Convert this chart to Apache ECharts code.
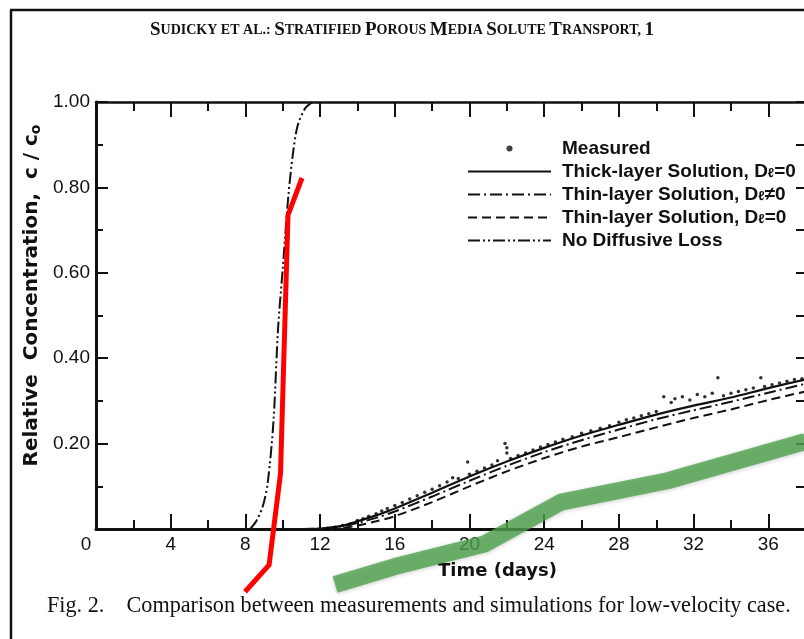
<!DOCTYPE html>
<html>
<head>
<meta charset="utf-8">
<script src="https://cdn.jsdelivr.net/npm/echarts@6/dist/echarts.min.js"></script>
<style>
html,body{margin:0;padding:0;background:#fff;}
#chart{width:804px;height:639px;}
</style>
</head>
<body>
<div id="chart"></div>
<script>
// ---- data ----
const xTicksLabelHidden = [38, 40];
const curveDays      = [11, 12, 13, 14, 15, 16, 18, 20, 22, 24, 26, 28, 30, 32, 34, 36, 38, 40];
const thickLayerD0   = [0, 0.001, 0.006, 0.018, 0.032, 0.048, 0.085, 0.123, 0.158, 0.19, 0.219, 0.244, 0.268, 0.289, 0.308, 0.33, 0.35, 0.368];
const thinLayerDnz   = [0, 0.001, 0.005, 0.014, 0.026, 0.041, 0.076, 0.113, 0.148, 0.18, 0.208, 0.233, 0.257, 0.278, 0.298, 0.319, 0.34, 0.358];
const thinLayerD0    = [0, 0, 0.002, 0.008, 0.018, 0.03, 0.063, 0.1, 0.135, 0.166, 0.193, 0.215, 0.238, 0.26, 0.28, 0.302, 0.322, 0.34];

const noLossDays = [8.25, 8.6, 8.95, 9.2, 9.5, 9.75, 10.0, 10.3, 10.55, 10.8, 11.2, 11.6];
const noLossVals = [0, 0.02, 0.056, 0.11, 0.25, 0.47, 0.61, 0.78, 0.88, 0.945, 0.985, 1.0];

const measuredDays = [12.4,12.8,13.2,13.6,14.0,14.3,14.6,15.0,15.3,15.6,16.0,16.4,16.8,17.2,17.6,18.0,18.4,18.8,19.1,19.4,19.9,20.0,20.4,20.8,21.2,21.5,21.9,22.0,22.0,22.2,22.6,23.0,23.4,23.8,24.2,24.6,25.0,25.5,26.0,26.5,27.0,27.5,28.0,28.4,28.8,29.2,29.6,30.0,30.4,30.8,31.0,31.4,31.8,32.2,32.6,33.0,33.3,33.6,34.0,34.4,34.8,35.2,35.6,35.8,36.2,36.6,37.0,37.4,37.8];
const measuredVals = [0.002,0.004,0.008,0.012,0.02,0.024,0.03,0.036,0.042,0.048,0.055,0.062,0.07,0.078,0.086,0.093,0.101,0.11,0.12,0.118,0.157,0.128,0.135,0.143,0.15,0.16,0.2,0.19,0.178,0.165,0.172,0.178,0.185,0.192,0.198,0.204,0.21,0.216,0.224,0.23,0.236,0.242,0.25,0.256,0.26,0.265,0.27,0.275,0.31,0.296,0.305,0.31,0.302,0.315,0.31,0.318,0.354,0.312,0.318,0.322,0.326,0.33,0.354,0.334,0.338,0.342,0.346,0.35,0.352];

const redDays = [7.98, 9.27, 9.88, 10.28, 11.03];
const redVals = [-0.147, -0.084, 0.13, 0.735, 0.822];

const greenDays = [12.8, 16.0, 20.8, 24.9, 30.6, 38.0];
const greenVals = [-0.13, -0.088, -0.035, 0.063, 0.113, 0.205];

const legendNames = ['Measured', 'Thick-layer Solution, Dℓ=0', 'Thin-layer Solution, Dℓ≠0', 'Thin-layer Solution, Dℓ=0', 'No Diffusive Loss'];

const zip = (a, b) => a.map((v, i) => [v, b[i]]);

const chart = echarts.init(document.getElementById('chart'), null, {renderer: 'canvas'});
const ink = '#111';
const axisFont = 'Liberation Sans, Arial, sans-serif';
const nameFont = 'DejaVu Sans, Verdana, sans-serif';

const xBase = {
  type: 'value', min: 0, max: 40, interval: 4,
  axisLine: {show: true, onZero: false, lineStyle: {color: ink, width: 3}},
  axisTick: {show: true, inside: true, length: 15, lineStyle: {color: ink, width: 2}},
  minorTick: {show: true, splitNumber: 2, length: 9, lineStyle: {color: ink, width: 2}},
  splitLine: {show: false}, minorSplitLine: {show: false}
};

const option = {
  animation: false,
  backgroundColor: '#fff',
  title: [{
    text: '{b|S}{s|UDICKY ET AL.: }{b|S}{s|TRATIFIED }{b|P}{s|OROUS }{b|M}{s|EDIA }{b|S}{s|OLUTE }{b|T}{s|RANSPORT, }{b|1}',
    left: 'center', top: 16,
    textStyle: {
      rich: {
        b: {fontFamily: 'Liberation Serif, Times New Roman, serif', fontSize: 19, fontWeight: 'bold', color: ink},
        s: {fontFamily: 'Liberation Serif, Times New Roman, serif', fontSize: 14, fontWeight: 'bold', color: ink}
      }
    }
  }],
  grid: {left: 96, width: 747, top: 102, bottom: 110, show: false, containLabel: false, outerBoundsMode: 'none'},
  xAxis: [
    Object.assign({}, xBase, {
      position: 'bottom',
      name: 'Time (days)', nameLocation: 'middle', nameGap: 33,
      nameTextStyle: {fontFamily: nameFont, fontSize: 18, fontWeight: 'bold', color: ink, padding: [0, 0, 0, 56]},
      axisLabel: {
        show: true, margin: 6, color: ink, fontFamily: axisFont, fontSize: 19,
        formatter: v => (v === 0 ? '{z|0}' : (xTicksLabelHidden.indexOf(v) >= 0 ? '' : String(v))),
        rich: {z: {fontFamily: axisFont, fontSize: 19, color: ink, padding: [0, 20, 0, 0]}}
      }
    }),
    Object.assign({}, xBase, {
      position: 'top',
      axisLine: {show: true, onZero: false, lineStyle: {color: ink, width: 2.5}},
      axisLabel: {show: false}
    })
  ],
  yAxis: [
    {
      type: 'value', min: 0, max: 1, interval: 0.2, position: 'left',
      name: '{n|Relative  Concentration,  c / c}{o|o}',
      nameLocation: 'middle', nameGap: 53, nameRotate: 90, nameMoveOverlap: false,
      nameTextStyle: {
        padding: [0, 0, 0, 40],
        rich: {
          n: {fontFamily: nameFont, fontSize: 20, fontWeight: 'bold', color: ink},
          o: {fontFamily: nameFont, fontSize: 14, fontWeight: 'bold', color: ink, verticalAlign: 'bottom', padding: [8, 0, 0, 0]}
        }
      },
      axisLine: {show: true, onZero: false, lineStyle: {color: ink, width: 3}},
      axisTick: {show: true, inside: true, length: 12, lineStyle: {color: ink, width: 2}},
      minorTick: {show: true, splitNumber: 2, length: 7, lineStyle: {color: ink, width: 2}},
      splitLine: {show: false},
      axisLabel: {
        show: true, margin: 6, color: ink, fontFamily: axisFont, fontSize: 19,
        formatter: v => (v === 0 ? '' : v.toFixed(2))
      }
    },
    {
      type: 'value', min: 0, max: 1, interval: 0.1, position: 'right', offset: -37,
      axisLine: {show: true, onZero: false, lineStyle: {color: ink, width: 3}},
      axisTick: {show: true, inside: true, length: 10, lineStyle: {color: ink, width: 2}},
      splitLine: {show: false},
      axisLabel: {show: false}
    }
  ],
  legend: {
    show: true, orient: 'vertical', left: 462, top: 134,
    itemWidth: 83, itemHeight: 6, itemGap: 4,
    selectedMode: false,
    itemStyle: {color: 'rgba(0,0,0,0)', borderWidth: 0},
    data: [
      {name: legendNames[0], icon: 'circle', itemStyle: {color: ink, borderWidth: 0}},
      legendNames[1], legendNames[2], legendNames[3], legendNames[4]
    ],
    formatter: name => name.replace('Dℓ', 'D{l|ℓ}'),
    textStyle: {
      fontFamily: axisFont, fontSize: 19, fontWeight: 'bold', color: ink, lineHeight: 17,
      padding: [0, 0, 0, 6],
      rich: {l: {fontFamily: axisFont, fontSize: 13, fontWeight: 'bold', color: ink, verticalAlign: 'bottom', padding: [6, 0, 0, 0]}}
    }
  },
  graphic: [
    {type: 'line', shape: {x1: 11, y1: 10, x2: 11, y2: 639}, style: {stroke: ink, lineWidth: 2.5}, silent: true},
    {type: 'line', shape: {x1: 10, y1: 10, x2: 804, y2: 10}, style: {stroke: ink, lineWidth: 2.5}, silent: true},
    {type: 'text', left: 47, top: 595, style: {
      text: 'Fig. 2.    Comparison between measurements and simulations for low-velocity case.',
      font: '22.2px "Liberation Serif", "Times New Roman", serif', fill: ink
    }, silent: true}
  ],
  series: [
    {
      name: legendNames[0], type: 'scatter', data: zip(measuredDays, measuredVals),
      symbol: 'circle', symbolSize: 3.5, itemStyle: {color: '#000'}, z: 3
    },
    {
      name: legendNames[1], type: 'line', data: zip(curveDays, thickLayerD0), smooth: 0.3,
      showSymbol: false, symbol: 'none', lineStyle: {color: ink, width: 2.2, type: 'solid'}, itemStyle: {color: ink}
    },
    {
      name: legendNames[2], type: 'line', data: zip(curveDays, thinLayerDnz), smooth: 0.3,
      showSymbol: false, symbol: 'none', lineStyle: {color: ink, width: 2, type: [12, 4, 2, 4]}, itemStyle: {color: ink}
    },
    {
      name: legendNames[3], type: 'line', data: zip(curveDays, thinLayerD0), smooth: 0.3,
      showSymbol: false, symbol: 'none', lineStyle: {color: ink, width: 2, type: [9, 5]}, itemStyle: {color: ink}
    },
    {
      name: legendNames[4], type: 'line', data: zip(noLossDays, noLossVals), smooth: 0.3,
      showSymbol: false, symbol: 'none', lineStyle: {color: ink, width: 2, type: [12, 3, 2, 3, 2, 3]}, itemStyle: {color: ink}
    },
    {
      name: 'green-overlay', type: 'line', data: zip(greenDays, greenVals), clip: false,
      showSymbol: false, symbol: 'none', z: 5,
      lineStyle: {color: 'rgba(78,162,78,0.8)', width: 17, cap: 'butt', join: 'round',
        shadowBlur: 4, shadowColor: 'rgba(0,0,0,0.25)', shadowOffsetY: 1}
    },
    {
      name: 'red-overlay', type: 'line', data: zip(redDays, redVals), clip: false,
      showSymbol: false, symbol: 'none', z: 6,
      lineStyle: {color: '#ff0000', width: 5, cap: 'butt', join: 'miter'}
    }
  ]
};
chart.setOption(option);
</script>
</body>
</html>
